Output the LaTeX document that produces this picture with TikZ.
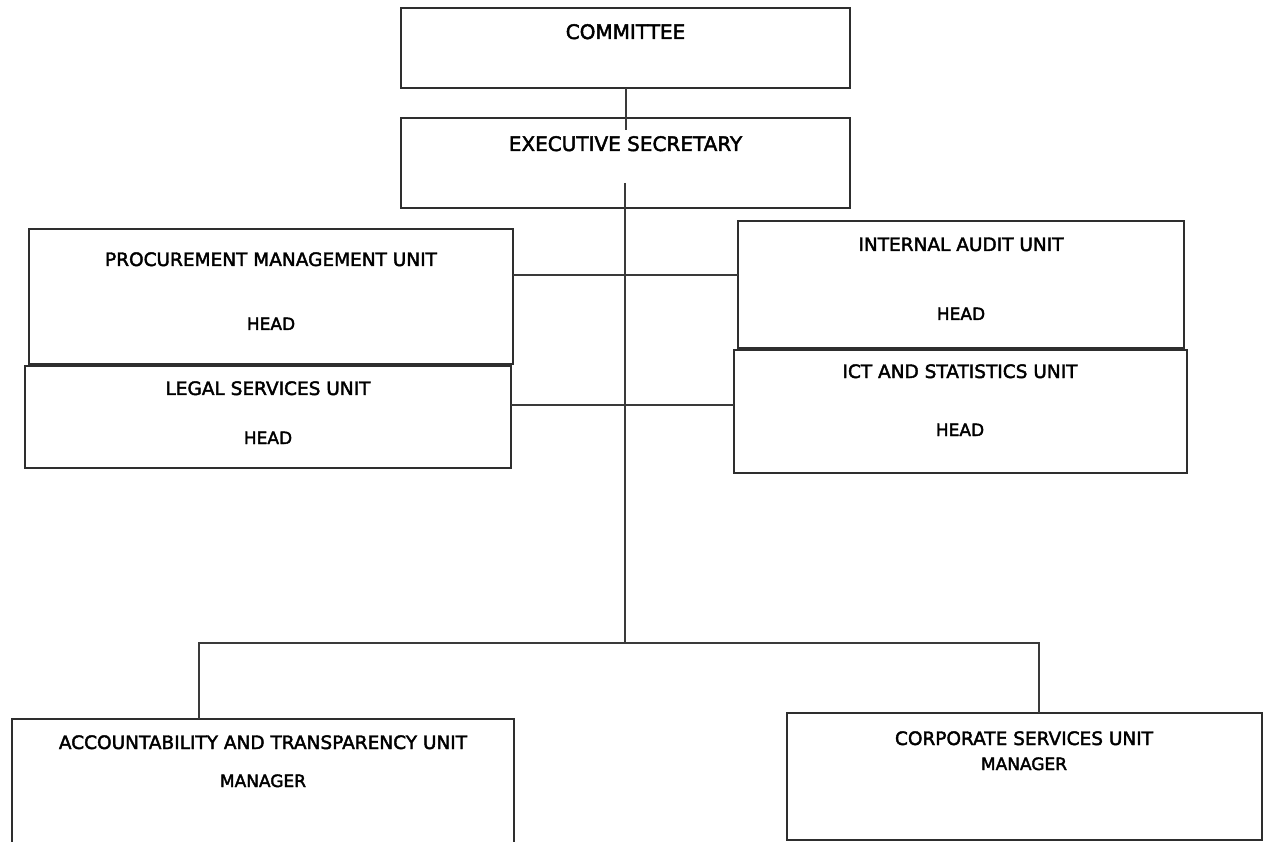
\documentclass[tikz,border=0pt]{standalone}
\usepackage{fontspec}
\setmainfont{DejaVu Sans}
\newfontfamily\orgfont[FakeBold=2.2]{DejaVu Sans}
\definecolor{boxline}{HTML}{2E2E2E}
\definecolor{conline}{HTML}{3A3A3A}
\tikzset{
  orgbox/.style={draw=boxline, line width=2.2pt, inner sep=0pt, outer sep=0pt, anchor=north west, fill=none},
  bigtxt/.style={anchor=base, inner sep=0pt, font=\orgfont\fontsize{20}{24}\selectfont},
  titletxt/.style={anchor=base, inner sep=0pt, font=\orgfont\fontsize{18.5}{22}\selectfont},
  subtxt/.style={anchor=base, inner sep=0pt, font=\orgfont\fontsize{17}{20}\selectfont},
  conn/.style={draw=conline, line width=1.6pt}
}
\begin{document}
\begin{tikzpicture}[x=1pt, y=-1pt]
\useasboundingbox (0,0) rectangle (1267,842);
% boxes
\node[orgbox, minimum width=449pt, minimum height=80pt] (comm) at (401,8) {};
\node[orgbox, minimum width=449pt, minimum height=90pt] (exec) at (401,118) {};
\node[orgbox, minimum width=484pt, minimum height=135pt] (proc) at (29,229) {};
\node[orgbox, minimum width=486pt, minimum height=102pt] (legal) at (25,366) {};
\node[orgbox, minimum width=446pt, minimum height=127pt] (audit) at (738,221) {};
\node[orgbox, minimum width=453pt, minimum height=123pt] (ict) at (734,350) {};
\node[orgbox, minimum width=502pt, minimum height=131pt] (acct) at (12,719) {};
\node[orgbox, minimum width=475pt, minimum height=127pt] (corp) at (787,713) {};
% texts
\node[bigtxt] (commt) at (625.5,39) {COMMITTEE};
\node[bigtxt] (exect) at (625.5,151) {EXECUTIVE SECRETARY};
\node[titletxt] (proct) at (271,266) {PROCUREMENT MANAGEMENT UNIT};
\node[subtxt] (proch) at (271,330) {HEAD};
\node[titletxt] (legalt) at (268,395) {LEGAL SERVICES UNIT};
\node[subtxt] (legalh) at (268,444) {HEAD};
\node[titletxt] (auditt) at (961,251) {INTERNAL AUDIT UNIT};
\node[subtxt] (audith) at (961,320) {HEAD};
\node[titletxt] (ictt) at (960,378) {ICT AND STATISTICS UNIT};
\node[subtxt] (icth) at (960,436) {HEAD};
\node[titletxt] (acctt) at (263,749) {ACCOUNTABILITY AND TRANSPARENCY UNIT};
\node[subtxt] (accth) at (263,787) {MANAGER};
\node[titletxt] (corpt) at (1024,745) {CORPORATE SERVICES UNIT};
\node[subtxt] (corph) at (1024,770) {MANAGER};
% connector points
\coordinate (ce) at (626,130);
\coordinate (sp) at (625,183);
\coordinate (jn) at (625,643);
\coordinate (h1) at (625,275);
\coordinate (h2) at (625,405);
\coordinate (bl) at (199,643);
\coordinate (br) at (1039,643);
% connectors
\draw[conn] (comm.south -| ce) -- (ce);
\draw[conn] (sp) -- (jn);
\draw[conn] (proc.east |- h1) -- (audit.west |- h1);
\draw[conn] (legal.east |- h2) -- (ict.west |- h2);
\draw[conn] (acct.north -| bl) -- (bl) -- (br) -- (corp.north -| br);
\end{tikzpicture}
\end{document}
